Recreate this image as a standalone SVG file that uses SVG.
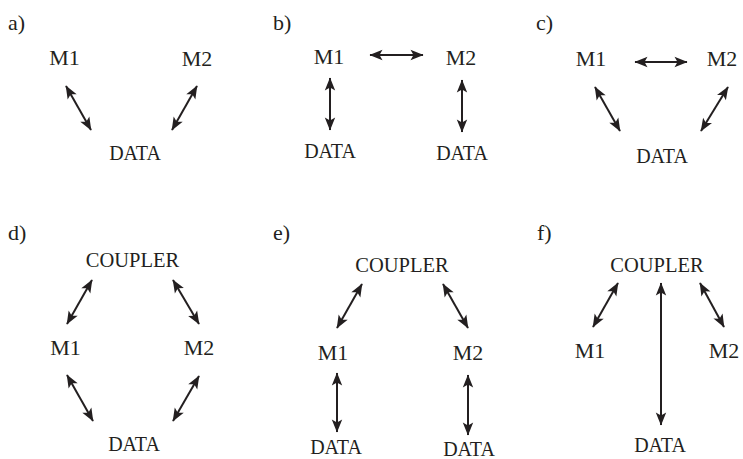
<svg xmlns="http://www.w3.org/2000/svg" width="743" height="459" viewBox="0 0 743 459">
<style>
text{fill:#231f20}
.lbl{font-size:22px}
.m{font-size:22px;text-anchor:middle}
.d{font-size:20px;text-anchor:middle}
.c{font-size:20.5px;text-anchor:middle}
line{stroke:#231f20;stroke-width:2;marker-start:url(#ah);marker-end:url(#ah)}
</style>
<defs>
<marker id="ah" markerUnits="userSpaceOnUse" markerWidth="16" markerHeight="14" viewBox="-14 -7 16 14" refX="0" refY="0" orient="auto-start-reverse">
<path d="M0.6,0 L-12.5,-5.2 L-9.5,0 L-12.5,5.2 Z" fill="#231f20"/>
</marker>
</defs>
<rect width="743" height="459" fill="#fff"/>
<g id="nodes" font-family="Liberation Serif, DejaVu Serif, serif">
<g id="labels">
<text class="lbl" x="8" y="30">a)</text>
<text class="lbl" x="273" y="30">b)</text>
<text class="lbl" x="536" y="30">c)</text>
<text class="lbl" x="8" y="240">d)</text>
<text class="lbl" x="273" y="240">e)</text>
<text class="lbl" x="537" y="240">f)</text>
</g>
<g id="a-M1"><text class="m" x="64.5" y="65">M1</text></g>
<g id="a-M2"><text class="m" x="197" y="66">M2</text></g>
<g id="a-DATA"><text class="d" x="135" y="160">DATA</text></g>
<g id="b-M1"><text class="m" x="329" y="64">M1</text></g>
<g id="b-M2"><text class="m" x="461" y="65">M2</text></g>
<g id="b-DATA1"><text class="d" x="330" y="158">DATA</text></g>
<g id="b-DATA2"><text class="d" x="462" y="160">DATA</text></g>
<g id="c-M1"><text class="m" x="591" y="66">M1</text></g>
<g id="c-M2"><text class="m" x="722" y="66">M2</text></g>
<g id="c-DATA"><text class="d" x="662" y="163">DATA</text></g>
<g id="d-COUPLER"><text class="c" x="132.5" y="267">COUPLER</text></g>
<g id="d-M1"><text class="m" x="65.5" y="355">M1</text></g>
<g id="d-M2"><text class="m" x="199" y="355">M2</text></g>
<g id="d-DATA"><text class="d" x="134" y="451">DATA</text></g>
<g id="e-COUPLER"><text class="c" x="402" y="272">COUPLER</text></g>
<g id="e-M1"><text class="m" x="333" y="360">M1</text></g>
<g id="e-M2"><text class="m" x="468" y="360">M2</text></g>
<g id="e-DATA1"><text class="d" x="336" y="454">DATA</text></g>
<g id="e-DATA2"><text class="d" x="469" y="456">DATA</text></g>
<g id="f-COUPLER"><text class="c" x="657" y="272">COUPLER</text></g>
<g id="f-M1"><text class="m" x="590" y="358">M1</text></g>
<g id="f-M2"><text class="m" x="724" y="358">M2</text></g>
<g id="f-DATA"><text class="d" x="660" y="452">DATA</text></g>
</g>
<g id="connectors">
<line x1="66" y1="86" x2="91" y2="130"/>
<line x1="197" y1="86" x2="172" y2="130"/>
<line x1="370" y1="55" x2="423" y2="55"/>
<line x1="330" y1="78" x2="330" y2="130"/>
<line x1="462" y1="80" x2="462" y2="132"/>
<line x1="635" y1="62" x2="687" y2="62"/>
<line x1="595" y1="87" x2="620" y2="131"/>
<line x1="728" y1="87" x2="701" y2="131"/>
<line x1="92" y1="280" x2="67" y2="324"/>
<line x1="173" y1="280" x2="199" y2="324"/>
<line x1="67" y1="375" x2="93" y2="421"/>
<line x1="199" y1="376" x2="173" y2="421"/>
<line x1="362" y1="284" x2="337" y2="328"/>
<line x1="443" y1="284" x2="468" y2="328"/>
<line x1="337" y1="373" x2="337" y2="432"/>
<line x1="468" y1="375" x2="468" y2="435"/>
<line x1="618" y1="283" x2="593" y2="327"/>
<line x1="700" y1="283" x2="724" y2="327"/>
<line x1="661" y1="283" x2="661" y2="425"/>
</g>
</svg>
